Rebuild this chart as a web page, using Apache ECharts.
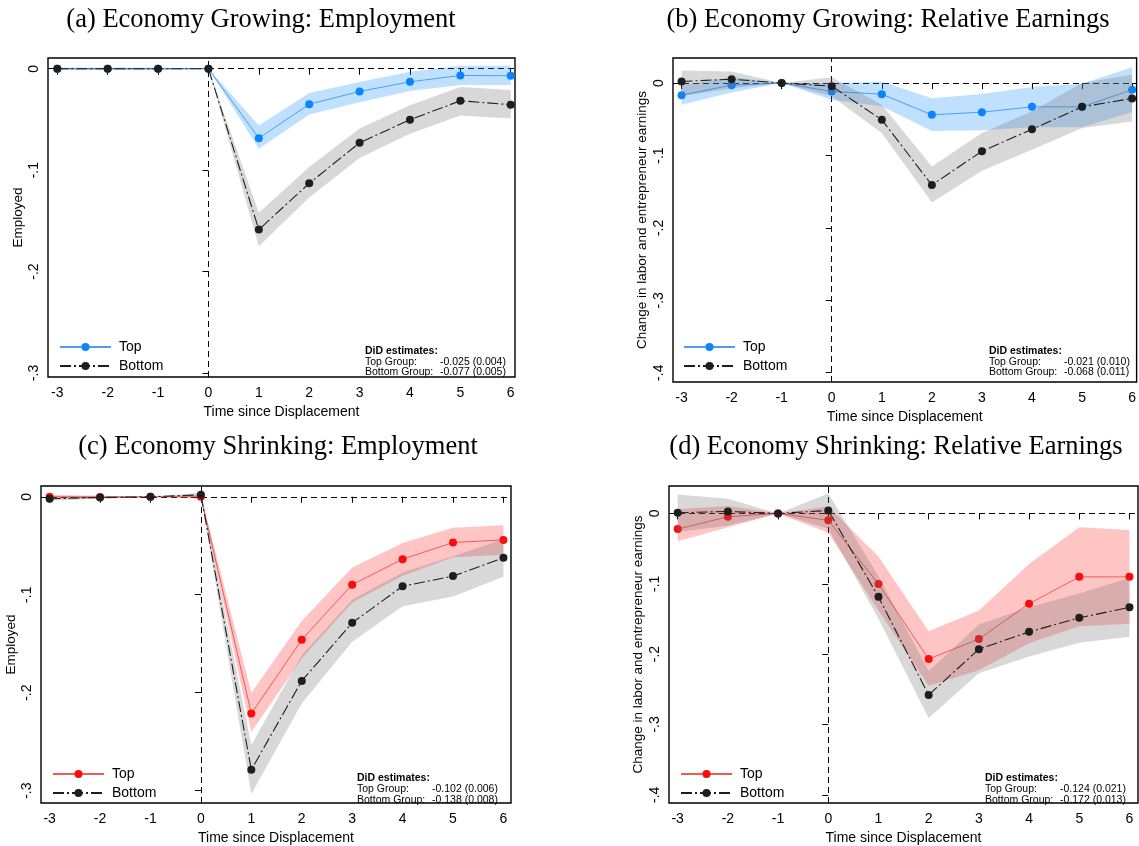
<!DOCTYPE html>
<html><head><meta charset="utf-8">
<script src="https://cdn.jsdelivr.net/npm/echarts@6/dist/echarts.min.js"></script>
<style>html,body{margin:0;padding:0;background:#fff}#c{width:1139px;height:846px}</style>
</head><body><div id="c"></div>
<script>
// ---------- data ----------
const years = [-3,-2,-1,0,1,2,3,4,5,6];
const xTicks = [-3,-2,-1,0,1,2,3,4,5,6];
const empTicks = [0,-0.1,-0.2,-0.3];
const earnTicks = [0,-0.1,-0.2,-0.3,-0.4];

const titles = ['(a) Economy Growing: Employment','(b) Economy Growing: Relative Earnings',
                '(c) Economy Shrinking: Employment','(d) Economy Shrinking: Relative Earnings'];
const yNames = ['Employed','Change in labor and entrepreneur earnings','Employed','Change in labor and entrepreneur earnings'];
const xName = 'Time since Displacement';

// (a) growing, employment
const growEmpTop   = [0,0,0,0,-0.0685,-0.035,-0.0224,-0.0129,-0.0066,-0.0069];
const growEmpTopLo = [-0.001,-0.001,-0.001,0,-0.079,-0.045,-0.033,-0.022,-0.016,-0.016];
const growEmpTopHi = [0.001,0.001,0.001,0,-0.056,-0.024,-0.013,-0.003,0.003,0.003];
const growEmpBot   = [0,0,0,0,-0.1586,-0.113,-0.073,-0.0503,-0.0316,-0.0355];
const growEmpBotLo = [-0.001,-0.001,-0.001,0,-0.175,-0.127,-0.088,-0.064,-0.046,-0.049];
const growEmpBotHi = [0.001,0.001,0.001,0,-0.142,-0.097,-0.059,-0.036,-0.018,-0.021];
// (b) growing, earnings
const growEarnTop   = [-0.0166,-0.0028,0,-0.0115,-0.0152,-0.0438,-0.0401,-0.0328,-0.0328,-0.0092];
const growEarnTopLo = [-0.030,-0.013,0,-0.023,-0.032,-0.066,-0.065,-0.061,-0.061,-0.040];
const growEarnTopHi = [-0.003,0.008,0,0.000,0.002,-0.021,-0.015,-0.0055,-0.001,0.022];
const growEarnBot   = [0.0023,0.0055,0,-0.0042,-0.0507,-0.1407,-0.0941,-0.0637,-0.0328,-0.0212];
const growEarnBotLo = [-0.018,-0.007,0,-0.018,-0.069,-0.165,-0.121,-0.092,-0.062,-0.053];
const growEarnBotHi = [0.0175,0.016,0,0.008,-0.030,-0.115,-0.069,-0.039,0.0,0.0115];
// (c) shrinking, employment
const shrEmpTop   = [0,-0.0003,0,0,-0.2213,-0.146,-0.0897,-0.0637,-0.0467,-0.044];
const shrEmpTopLo = [-0.002,-0.002,0,-0.002,-0.24,-0.165,-0.108,-0.0807,-0.0617,-0.0593];
const shrEmpTopHi = [0.002,0.001,0,0.002,-0.20,-0.1267,-0.0723,-0.0473,-0.0317,-0.029];
const shrEmpBot   = [-0.002,-0.0007,0,0.002,-0.2787,-0.188,-0.1287,-0.0913,-0.081,-0.0623];
const shrEmpBotLo = [-0.004,-0.002,0,0,-0.3033,-0.211,-0.148,-0.1117,-0.1017,-0.0817];
const shrEmpBotHi = [0,0.001,0,0.004,-0.2533,-0.1617,-0.105,-0.0773,-0.0607,-0.0433];
// (d) shrinking, earnings
const shrEarnTop   = [-0.0223,-0.0047,0,-0.0098,-0.1005,-0.207,-0.1786,-0.1284,-0.0902,-0.0902];
const shrEarnTopLo = [-0.0395,-0.0195,0,-0.0274,-0.138,-0.245,-0.2228,-0.1847,-0.1605,-0.1567];
const shrEarnTopHi = [0.006,0.0107,0,0.0098,-0.0614,-0.1674,-0.138,-0.072,-0.0195,-0.0237];
const shrEarnBot   = [0.0009,0.0028,0,0.0042,-0.1186,-0.2581,-0.193,-0.1684,-0.1484,-0.1335];
const shrEarnBotLo = [-0.0265,-0.0172,0,-0.0219,-0.1498,-0.2907,-0.2274,-0.2033,-0.1837,-0.1753];
const shrEarnBotHi = [0.027,0.0209,0,0.0284,-0.0893,-0.2242,-0.158,-0.1335,-0.114,-0.0916];

const didTop = ['-0.025 (0.004)','-0.021 (0.010)','-0.102 (0.006)','-0.124 (0.021)'];
const didBot = ['-0.077 (0.005)','-0.068 (0.011)','-0.138 (0.008)','-0.172 (0.013)'];

// ---------- layout / style ----------
const panels = [
  {top:growEmpTop, topLo:growEmpTopLo, topHi:growEmpTopHi, bot:growEmpBot, botLo:growEmpBotLo, botHi:growEmpBotHi,
   grid:{left:48,top:58,width:467,height:319}, xr:[-3.185,6.085], yr:[-0.304,0.0106], yt:empTicks, scheme:'grow',
   legend:[59,340], did:[365,351,10.7], title:[261,20], yGap:23},
  {top:growEarnTop, topLo:growEarnTopLo, topHi:growEarnTopHi, bot:growEarnBot, botLo:growEarnBotLo, botHi:growEarnBotHi,
   grid:{left:673,top:58,width:465,height:324}, xr:[-3.171,6.09], yr:[-0.4128,0.0347], yt:earnTicks, scheme:'grow',
   legend:[683,340], did:[989,351,10.7], title:[888,20], yGap:24},
  {top:shrEmpTop, topLo:shrEmpTopLo, topHi:shrEmpTopHi, bot:shrEmpBot, botLo:shrEmpBotLo, botHi:shrEmpBotHi,
   grid:{left:41,top:486,width:470,height:323}, xr:[-3.171,6.15], yr:[-0.3126,0.011], yt:empTicks, scheme:'shr',
   legend:[52,767], did:[357,778,11], title:[278,447], yGap:23},
  {top:shrEarnTop, topLo:shrEarnTopLo, topHi:shrEarnTopHi, bot:shrEarnBot, botLo:shrEarnBotLo, botHi:shrEarnBotHi,
   grid:{left:669,top:486,width:469,height:323}, xr:[-3.173,6.17], yr:[-0.4117,0.039], yt:earnTicks, scheme:'shr',
   legend:[680,767], did:[985,778,11], title:[896,447], yGap:24}
];
const schemes = {
  grow:{line:'#4d9ff0', marker:'#0a84ff', band:'rgba(30,144,255,0.28)'},
  shr:{line:'#f25a5a', marker:'#ff0a0a', band:'rgba(255,0,0,0.23)'}
};
const botStyle = {line:'#1e1e1e', marker:'#1e1e1e', band:'rgba(110,110,110,0.27)'};
const sans = 'Liberation Sans, Arial, sans-serif';

function fmtY(v){
  if (Math.abs(v) < 1e-9) return '0';
  return (v<0?'-':'') + String(+Math.abs(v).toFixed(2)).replace(/^0/,'');
}

function bandSeries(gi, lo, hi, color, z){
  return {
    type:'custom', name:'band', xAxisIndex:gi, yAxisIndex:gi, z:z, silent:true,
    data: years.map((x,i)=>[x, lo[i], hi[i]]),
    encode:{x:0, y:[1,2]},
    renderItem:function(params, api){
      if (params.dataIndex !== 0) return null;
      const pts = [];
      for (let i=0;i<years.length;i++) pts.push(api.coord([years[i], hi[i]]));
      for (let i=years.length-1;i>=0;i--) pts.push(api.coord([years[i], lo[i]]));
      return {type:'polygon', shape:{points:pts}, style:{fill:color, stroke:null}};
    }
  };
}

const option = {
  animation:false,
  backgroundColor:'#fff',
  grid:[], xAxis:[], yAxis:[], series:[], legend:[], graphic:[]
};

panels.forEach((p, gi) => {
  const sc = schemes[p.scheme];
  option.grid.push(Object.assign({show:true, borderColor:'#000', borderWidth:1.4, backgroundColor:'transparent'}, p.grid));
  option.xAxis.push({
    type:'value', gridIndex:gi, min:p.xr[0], max:p.xr[1],
    name:xName, nameLocation:'middle', nameGap:28,
    nameTextStyle:{fontFamily:sans, fontSize:14, color:'#000'},
    axisLine:{show:false},
    axisTick:{show:true, customValues:xTicks, length:6, lineStyle:{color:'#000', width:1}},
    axisLabel:{customValues:xTicks, fontFamily:sans, fontSize:14, color:'#000', margin:9},
    splitLine:{show:false}
  });
  option.yAxis.push({
    type:'value', gridIndex:gi, min:p.yr[0], max:p.yr[1],
    name:yNames[gi], nameLocation:'middle', nameGap:p.yGap,
    nameTextStyle:{fontFamily:sans, fontSize:13.5, color:'#000'},
    axisLine:{show:false},
    axisTick:{show:true, customValues:p.yt, length:6, lineStyle:{color:'#000', width:1}},
    axisLabel:{customValues:p.yt, rotate:90, fontFamily:sans, fontSize:14, color:'#000', margin:7, formatter:fmtY},
    splitLine:{show:false}
  });
  const topName = 'Top|' + p.scheme, botName = 'Bottom|' + p.scheme;
  option.series.push(bandSeries(gi, p.topLo, p.topHi, sc.band, 2));
  option.series.push({
    type:'line', name:topName, xAxisIndex:gi, yAxisIndex:gi, z:3,
    data: years.map((x,i)=>[x, p.top[i]]),
    symbol:'circle', symbolSize:8, showSymbol:true,
    lineStyle:{color:sc.line, width:1}, itemStyle:{color:sc.marker},
    emphasis:{disabled:true},
    markLine:{silent:true, symbol:'none', z:1, label:{show:false}, emphasis:{disabled:true},
      lineStyle:{color:'#000', type:[6,4], width:1},
      data:[{xAxis:0},{yAxis:0}]}
  });
  option.series.push(bandSeries(gi, p.botLo, p.botHi, botStyle.band, 4));
  option.series.push({
    type:'line', name:botName, xAxisIndex:gi, yAxisIndex:gi, z:5,
    data: years.map((x,i)=>[x, p.bot[i]]),
    symbol:'circle', symbolSize:8, showSymbol:true,
    lineStyle:{color:botStyle.line, width:1.1, type:[11,3,2,3]}, itemStyle:{color:botStyle.marker},
    emphasis:{disabled:true}
  });
  option.legend.push({
    left:p.legend[0], top:p.legend[1], orient:'vertical', padding:0,
    itemWidth:51, itemHeight:10, itemGap:5, selectedMode:false,
    data:[topName, botName],
    formatter:n=>n.split('|')[0],
    textStyle:{fontFamily:sans, fontSize:14, color:'#000', padding:[0,0,0,3]}
  });
  const [dx, dy, dh] = p.did;
  option.graphic.push(
    {type:'text', x:dx, y:dy, silent:true, style:{text:'DiD estimates:', font:'bold 10.5px '+sans, fill:'#000', verticalAlign:'middle'}},
    {type:'text', x:dx, y:dy+dh, silent:true, style:{text:'Top Group:', font:'10.5px '+sans, fill:'#000', verticalAlign:'middle'}},
    {type:'text', x:dx+75, y:dy+dh, silent:true, style:{text:didTop[gi], font:'10.5px '+sans, fill:'#000', verticalAlign:'middle'}},
    {type:'text', x:dx, y:dy+2*dh, silent:true, style:{text:'Bottom Group:', font:'10.5px '+sans, fill:'#000', verticalAlign:'middle'}},
    {type:'text', x:dx+75, y:dy+2*dh, silent:true, style:{text:didBot[gi], font:'10.5px '+sans, fill:'#000', verticalAlign:'middle'}},
    {type:'text', x:p.title[0], y:p.title[1], silent:true, style:{text:titles[gi], font:'26.5px Liberation Serif, serif', fill:'#000', align:'center', verticalAlign:'middle'}}
  );
});

const chart = echarts.init(document.getElementById('c'), null, {renderer:'canvas'});
chart.setOption(option);
</script>
</body></html>
